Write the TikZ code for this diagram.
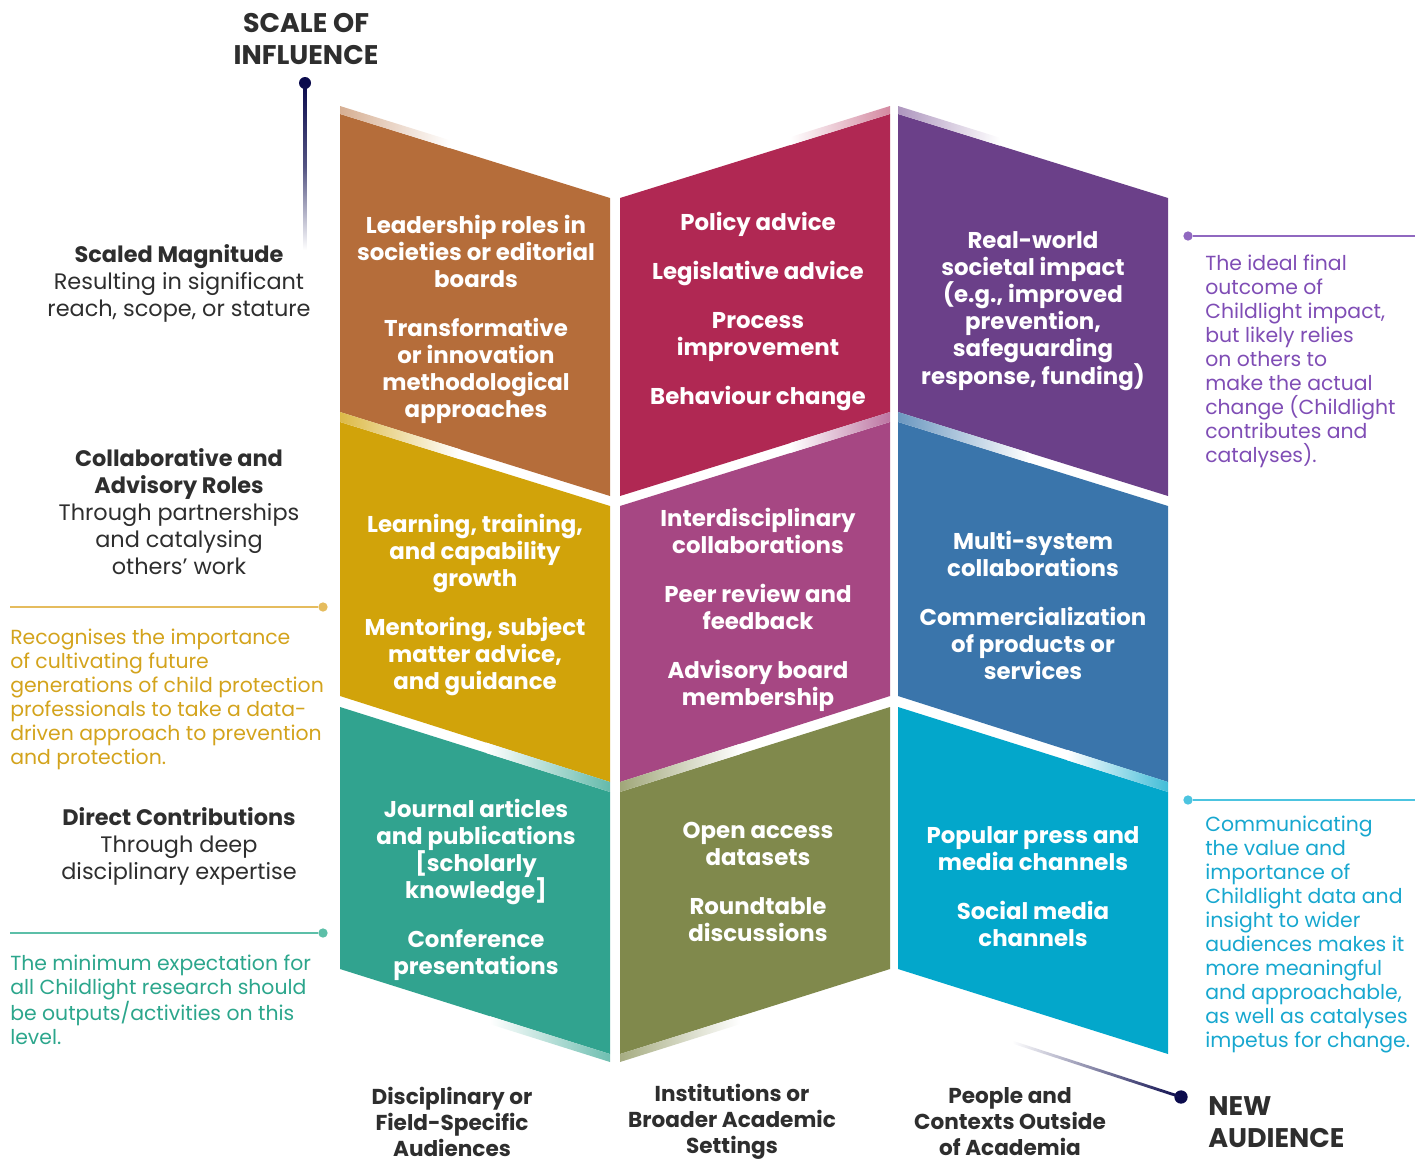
\documentclass[tikz,border=0pt]{standalone}
\usepackage{fontspec}
\setmainfont{Poppins}
\definecolor{cOrange}{HTML}{B56D3A}
\definecolor{cCrimson}{HTML}{B02853}
\definecolor{cPurple}{HTML}{6B4089}
\definecolor{cYellow}{HTML}{D1A30A}
\definecolor{cPink}{HTML}{A64783}
\definecolor{cBlue}{HTML}{3A75AB}
\definecolor{cTeal}{HTML}{31A38F}
\definecolor{cOlive}{HTML}{80894C}
\definecolor{cCyan}{HTML}{03A7CB}
\definecolor{cDark}{HTML}{2E2E2E}
\definecolor{cNavy}{HTML}{0B0B4D}
\definecolor{tGold}{HTML}{D3A31C}
\definecolor{lGold}{HTML}{E5BC5E}
\definecolor{tTeal}{HTML}{2CA68C}
\definecolor{lTeal}{HTML}{5CBFA8}
\definecolor{tPurple}{HTML}{7F4DB5}
\definecolor{lPurple}{HTML}{9068C0}
\definecolor{tCyan}{HTML}{17A7CF}
\definecolor{lCyan}{HTML}{4CC4E0}
\begin{document}
\begin{tikzpicture}[x=0.75pt,y=-0.75pt,
  ptext/.style={text=white,font=\bfseries\fontsize{17.15}{20.25}\selectfont,align=center,inner sep=0pt},
  ltext/.style={text=cDark,font=\fontsize{16.8}{20.25}\selectfont,align=center,inner sep=0pt},
  btext/.style={text=cDark,font=\bfseries\fontsize{16.2}{19.5}\selectfont,align=center,inner sep=0pt},
  htext/.style={text=cDark,font=\bfseries\fontsize{20.2}{24}\selectfont,inner sep=0pt},
  stext/.style={font=\fontsize{15.3}{18}\selectfont,align=left,anchor=west,inner sep=0pt},
  dotnode/.style={circle,inner sep=0pt,minimum size=#1},
  noteline/.style={line width=1.3pt}
]
\useasboundingbox (0,0) rectangle (1426,1160);

% ---------- panels ----------
% column 1
\fill[cOrange] (340,114) -- (610,198) -- (610,496) -- (340,412) -- cycle;
\fill[cYellow] (340,422) -- (610,506) -- (610,782) -- (340,696) -- cycle;
\fill[cTeal]   (340,707) -- (610,792) -- (610,1054) -- (340,969) -- cycle;
% column 2
\fill[cCrimson] (620,198) -- (890,114) -- (890,412) -- (620,496) -- cycle;
\fill[cPink]    (620,506) -- (890,422) -- (890,696) -- (620,782) -- cycle;
\fill[cOlive]   (620,792) -- (890,707) -- (890,969) -- (620,1054) -- cycle;
% column 3
\fill[cPurple] (898,114) -- (1168,198) -- (1168,496) -- (898,412) -- cycle;
\fill[cBlue]   (898,422) -- (1168,506) -- (1168,782) -- (898,696) -- cycle;
\fill[cCyan]   (898,707) -- (1168,792) -- (1168,1054) -- (898,969) -- cycle;

% ---------- fading highlight bands ----------
\shade[left color=cOrange!55!white,right color=white] (340,106) -- (450,140.2) -- (450,148.2) -- (340,114) -- cycle;
\shade[left color=cYellow!75!white,right color=white] (340,412) -- (460,449.3) -- (460,459.3) -- (340,422) -- cycle;
\shade[left color=white,right color=cTeal!75!white] (486,742.5) -- (610,782) -- (610,792) -- (486,753) -- cycle;
\shade[left color=white,right color=cTeal!70!white] (490,1016.2) -- (610,1054) -- (610,1062) -- (490,1024.2) -- cycle;

\shade[left color=white,right color=cCrimson!55!white] (790,137.1) -- (890,106) -- (890,114) -- (790,145.1) -- cycle;
\shade[left color=white,right color=cPink!75!white] (790,443.1) -- (890,412) -- (890,422) -- (790,453.1) -- cycle;
\shade[left color=cOlive!75!white,right color=white] (620,782) -- (740,743.8) -- (740,754.2) -- (620,792) -- cycle;
\shade[left color=cOlive!70!white,right color=white] (620,1054) -- (740,1016.2) -- (740,1024.2) -- (620,1062) -- cycle;

\shade[left color=cPurple!55!white,right color=white] (898,106) -- (1000,137.7) -- (1000,145.7) -- (898,114) -- cycle;
\shade[left color=cBlue!75!white,right color=white] (898,412) -- (1030,453.1) -- (1030,463.1) -- (898,422) -- cycle;
\shade[left color=white,right color=cCyan!75!white] (1067,749.8) -- (1168,782) -- (1168,792) -- (1067,760.2) -- cycle;

% ---------- panel texts ----------
\node[ptext] (tOrange) at (476,319) {Leadership roles in\\societies or editorial\\boards\\[16.5pt]Transformative\\or innovation\\methodological\\approaches};
\node[ptext] (tCrimson) at (758,311) {Policy advice\\[16.5pt]Legislative advice\\[16.5pt]Process\\improvement\\[16.5pt]Behaviour change};
\node[ptext] (tPurple) at (1033,311) {Real-world\\societal impact\\(e.g., improved\\prevention,\\safeguarding\\response, funding)};
\node[ptext] (tYellow) at (475,605) {Learning, training,\\and capability\\growth\\[16.5pt]Mentoring, subject\\matter advice,\\and guidance};
\node[ptext] (tPink) at (758,609.5) {Interdisciplinary\\collaborations\\[16.5pt]Peer review and\\feedback\\[16.5pt]Advisory board\\membership};
\node[ptext] (tBlue) at (1033,605) {Multi-system\\collaborations\\[16.5pt]Commercialization\\of products or\\services};
\node[ptext] (tTeal) at (476,890) {Journal articles\\and publications\\{[scholarly}\\knowledge]\\[16.5pt]Conference\\presentations};
\node[ptext] (tOlive) at (758,882) {Open access\\datasets\\[16.5pt]Roundtable\\discussions};
\node[ptext] (tCyan) at (1033,887) {Popular press and\\media channels\\[16.5pt]Social media\\channels};

% ---------- left labels ----------
\node[ltext] (lScaled) at (179,283) {\textbf{Scaled Magnitude}\\Resulting in significant\\reach, scope, or stature};
\node[ltext] (lCollab) at (179,512) {\textbf{Collaborative and}\\\textbf{Advisory Roles}\\Through partnerships\\and catalysing\\others’ work};
\node[ltext] (lDirect) at (179,846) {\textbf{Direct Contributions}\\Through deep\\disciplinary expertise};

% ---------- side notes ----------
\coordinate (gL) at (10,607);
\node[dotnode=7pt,fill=lGold] (gD) at (323,607) {};
\draw[noteline,lGold] (gL) -- (gD);
\node[stext,text=tGold] (nGold) at (10,699) {Recognises the importance\\of cultivating future\\generations of child protection\\professionals to take a data-\\driven approach to prevention\\and protection.};

\coordinate (tL) at (10,933);
\node[dotnode=7pt,fill=lTeal] (tD) at (323,933) {};
\draw[noteline,lTeal] (tL) -- (tD);
\node[stext,text=tTeal] (nTeal) at (10,1000) {The minimum expectation for\\all Childlight research should\\be outputs/activities on this\\level.};

\coordinate (pR) at (1415,236);
\node[dotnode=7pt,fill=lPurple] (pD) at (1188,236) {};
\draw[noteline,lPurple] (pD) -- (pR);
\node[stext,text=tPurple] (nPurple) at (1205,361) {The ideal final\\outcome of\\Childlight impact,\\but likely relies\\on others to\\make the actual\\change (Childlight\\contributes and\\catalyses).};

\coordinate (cR) at (1415,800);
\node[dotnode=7pt,fill=lCyan] (cD) at (1188,800) {};
\draw[noteline,lCyan] (cD) -- (cR);
\node[stext,text=tCyan] (nCyan) at (1205,934) {Communicating\\the value and\\importance of\\Childlight data and\\insight to wider\\audiences makes it\\more meaningful\\and approachable,\\as well as catalyses\\impetus for change.};

% ---------- axes ----------
\node[htext,align=center] (hScale) at (306,39) {SCALE OF\\INFLUENCE};
\node[dotnode=9pt,fill=cNavy] (aTop) at (305,83) {};
\coordinate (aEnd) at (305,250);
\shade[top color=cNavy,bottom color=white,middle color=cNavy!70!white] (303.5,83) rectangle (306.5,250);

\node[htext,align=left,anchor=west] (hNew) at (1208,1122) {NEW\\AUDIENCE};
\node[dotnode=10pt,fill=cNavy] (aRight) at (1181,1097) {};
\coordinate (aStart) at (1012,1042);
\shade[left color=white,right color=cNavy] (1012,1040.5) -- (1181,1095.5) -- (1181,1098.5) -- (1012,1043.5) -- cycle;

% ---------- bottom labels ----------
\node[btext] (bDisc) at (452,1122) {Disciplinary or\\Field-Specific\\Audiences};
\node[btext] (bInst) at (732,1122) {Institutions or\\Broader Academic\\Settings};
\node[btext] (bPeople) at (1010,1122) {People and\\Contexts Outside\\of Academia};
\end{tikzpicture}
\end{document}
